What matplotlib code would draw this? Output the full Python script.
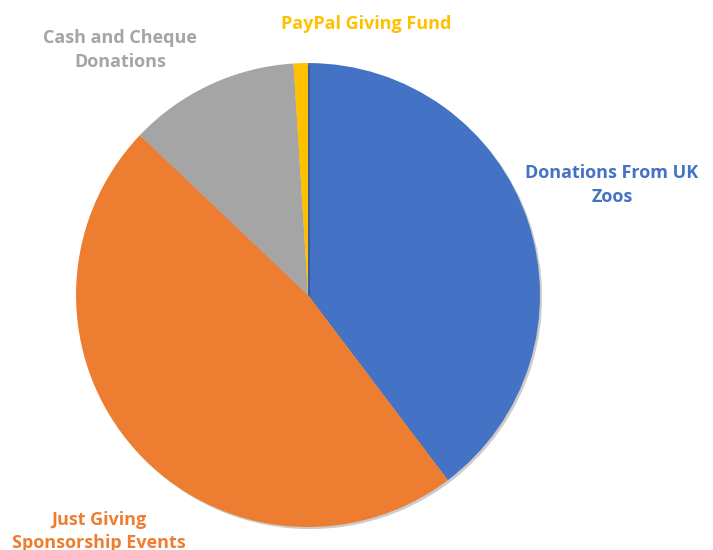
import matplotlib
matplotlib.use('Agg')
import matplotlib.pyplot as plt
import matplotlib.patheffects as pe

# share of funds (percent)
labels = ['Donations From UK\nZoos', 'Just Giving\nSponsorship Events',
          'Cash and Cheque\nDonations', 'PayPal Giving Fund']
values = [39.7, 47.4, 11.9, 1.0]
colors = ['#4472C4', '#ED7D31', '#A5A5A5', '#FFC000']

# label spots outside the pie (data coords, radius 1)
label_xy = [(1.31, 0.474), (-0.90, -1.02), (-0.81, 1.055), (0.25, 1.17)]

fig = plt.figure(figsize=(7.13, 5.5), dpi=100)
ax = fig.add_axes([0.1066, 0.0418, 0.6508, 0.8436])

wedges, _ = ax.pie(values, colors=colors, startangle=90, counterclock=False,
                   radius=1, wedgeprops=dict(linewidth=0))
for w in wedges:
    w.set_path_effects([pe.SimplePatchShadow(offset=(1.5, -1.5), alpha=0.2, shadow_rgbFace='k'),
                        pe.Normal()])

for lab, (x, y), c in zip(labels, label_xy, colors):
    ax.text(x, y, lab, color=c, fontsize=13, fontweight='bold', family='Open Sans',
            ha='center', va='center', linespacing=1.4, clip_on=False)

ax.set_xlim(-1, 1)
ax.set_ylim(-1, 1)
ax.axis('off')

fig.savefig('out.png', dpi=100)
